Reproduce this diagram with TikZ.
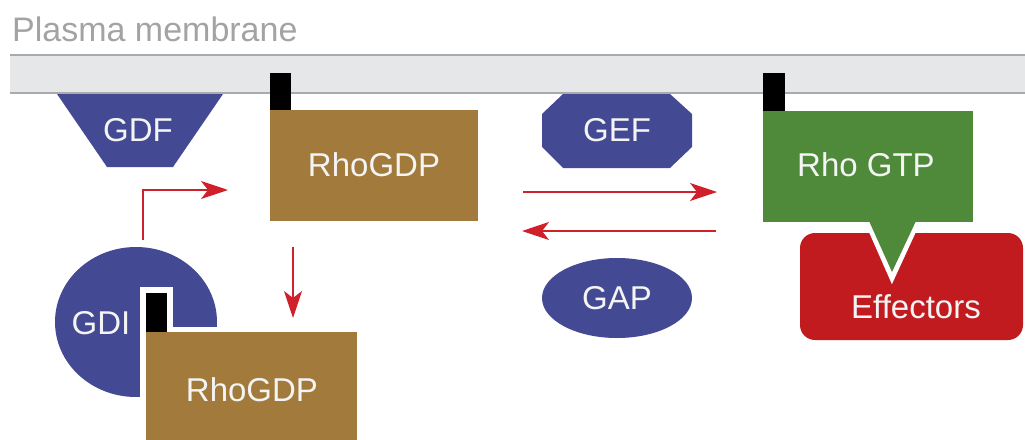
\documentclass[tikz,border=0pt]{standalone}
\usepackage{fontspec}
\setmainfont{Liberation Sans}
\usetikzlibrary{shapes.geometric,arrows.meta}
\definecolor{memfill}{HTML}{E6E7E8}
\definecolor{memline}{HTML}{A9AAAC}
\definecolor{protblue}{HTML}{434A93}
\definecolor{rhobrown}{HTML}{A17A3C}
\definecolor{rhogreen}{HTML}{4E8A3A}
\definecolor{effred}{HTML}{C21B1F}
\definecolor{arrred}{HTML}{D0202A}
\definecolor{labelgray}{HTML}{A3A3A3}
\definecolor{lbltext}{HTML}{F4F4F4}
\begin{document}
\begin{tikzpicture}[x=1pt,y=-1pt,
  lbl/.style={text=lbltext,font=\fontsize{33}{40}\selectfont,inner sep=0pt},
  conn/.style={draw=arrred,line width=1.8pt,-{Stealth[length=27pt,width=18pt,inset=7pt]}},
  anchorbox/.style={fill=black}
]
\useasboundingbox (0,0) rectangle (1025,439);

% plasma membrane
\fill[memfill] (10,55) rectangle (1025,93);
\draw[memline,line width=2pt] (10,55) -- (1025,55);
\draw[memline,line width=2pt] (10,93) -- (1025,93);
\node[anchor=base west,text=labelgray,font=\fontsize{34}{40}\selectfont,inner sep=0pt] (pm) at (12,41) {Plasma membrane};

% GDF
\fill[protblue] (57,94) -- (223,94) -- (173,167) -- (107,167) -- cycle;
\node[lbl] (gdf) at (138,130) {GDF};

% RhoGDP (membrane)
\fill[anchorbox] (270,73) rectangle (291,111);
\node[fill=rhobrown,minimum width=208pt,minimum height=111pt,inner sep=0pt,anchor=north west] (rhogdpbox) at (270,110) {};
\node[lbl] (rhogdp) at (374,165) {RhoGDP};

% GEF
\fill[protblue] (563,94) -- (670,94) -- (692,114) -- (692,147) -- (670,168) -- (563,168) -- (542,147) -- (542,114) -- cycle;
\node[lbl] (gef) at (617,130) {GEF};

% GAP
\node[ellipse,fill=protblue,minimum width=150pt,minimum height=80pt,inner sep=0pt] (gapshape) at (617,298) {};
\node[lbl] (gap) at (617,298) {GAP};

% Effectors
\fill[effred,rounded corners=15pt] (800,233) rectangle (1023,340);
\node[lbl] (eff) at (916,307) {Effectors};

% Rho GTP
\draw[white,line width=10pt,line join=miter,miter limit=10] (870,222) -- (892,272) -- (915,222);
\fill[anchorbox] (763,73) rectangle (785,112);
\fill[rhogreen] (763,111) rectangle (973,222);
\fill[rhogreen] (869,221) -- (916,221) -- (892,272) -- cycle;
\node[lbl] (rhogtp) at (866,165) {Rho GTP};

% GDI
\node[ellipse,fill=protblue,minimum width=162pt,minimum height=150pt,inner sep=0pt] (gdishape) at (136,322) {};
\fill[white] (140,287) rectangle (173,332);
\fill[white] (140,327) rectangle (363,445);
\fill[anchorbox] (146,293) rectangle (167,333);
\fill[rhobrown] (146,332) rectangle (357,445);
\node[lbl] (gdi) at (101,323) {GDI};
\node[lbl] (rhogdpb) at (252,390) {RhoGDP};

% connectors
\coordinate (gdiup) at (143,240);
\coordinate (gditurn) at (143,190);
\coordinate (gdiend) at (228,190);
\draw[conn] (gdiup) -- (gditurn) -- (gdiend);
\coordinate (downstart) at (293,247);
\coordinate (downend) at (293,318);
\draw[conn] (downstart) -- (downend);
\coordinate (fwdstart) at (523,192);
\coordinate (fwdend) at (717,192);
\draw[conn] (fwdstart) -- (fwdend);
\coordinate (backstart) at (716,231);
\coordinate (backend) at (522,231);
\draw[conn] (backstart) -- (backend);
\end{tikzpicture}
\end{document}
